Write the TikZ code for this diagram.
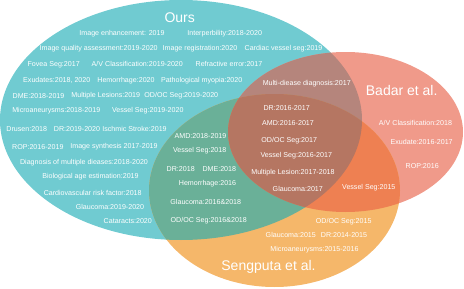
\documentclass[tikz,border=0pt]{standalone}
\usepackage{fontspec}
\setmainfont{Liberation Sans}
\usetikzlibrary{positioning}

\definecolor{oursfill}{HTML}{70CBD1}
\definecolor{badarfill}{HTML}{F09A8A}
\definecolor{sengfill}{HTML}{F5B76A}
\definecolor{obfill}{HTML}{B5857C}
\definecolor{osfill}{HTML}{6AB098}
\definecolor{bsfill}{HTML}{EE8052}
\definecolor{allfill}{HTML}{B57662}

% the three sets
\newcommand{\oursset}{(181,120) ellipse [x radius=181pt, y radius=120pt]}
\newcommand{\badarset}{(345.5,132) ellipse [x radius=117.5pt, y radius=80pt]}
\newcommand{\sengset}{(274.5,190.5) ellipse [x radius=125.5pt, y radius=96.5pt]}

\begin{document}
\begin{tikzpicture}[x=1pt, y=-1pt, every node/.style={inner sep=0pt, outer sep=0pt}]
    \tikzstyle{item} = [text=white, font=\fontsize{7.1}{8}\selectfont]
    \tikzstyle{title} = [text=white, font=\fontsize{14}{16}\selectfont]
    \useasboundingbox (0,0) rectangle (464,289);

    \fill[oursfill] \oursset;
    \fill[badarfill] \badarset;
    \fill[sengfill] \sengset;
    \begin{scope}
        \clip \oursset;
        \fill[obfill] \badarset;
        \fill[osfill] \sengset;
    \end{scope}
    \begin{scope}
        \clip \badarset;
        \fill[bsfill] \sengset;
    \end{scope}
    \begin{scope}
        \clip \oursset;
        \clip \badarset;
        \fill[allfill] \sengset;
    \end{scope}

    % Ours only
    \node[title] (ours) at (179.7,17.3) {Ours};
    \node[item] (o-enh) at (122,33.3) {Image enhancement: 2019};
    \node[item] (o-int) at (224.7,33.3) {Interperbility:2018-2020};
    \node[item] (o-iqa) at (98.7,48.3) {Image quality assessment:2019-2020};
    \node[item] (o-reg) at (200,48.3) {Image registration:2020};
    \node[item] (o-card) at (283.5,48.3) {Cardiac vessel seg:2019};
    \node[item] (o-fov) at (53.7,64.3) {Fovea Seg:2017};
    \node[item] (o-av) at (137.3,64.3) {A/V Classification:2019-2020};
    \node[item] (o-ref) at (229,64.3) {Refractive error:2017};
    \node[item] (o-exu) at (56.8,80.3) {Exudates:2018, 2020};
    \node[item] (o-hem) at (126,80.3) {Hemorrhage:2020};
    \node[item] (o-myo) at (201.7,80.3) {Pathological myopia:2020};
    \node[item] (o-dme) at (38.5,96) {DME:2018-2019};
    \node[item] (o-les) at (105.8,96) {Multiple Lesions:2019};
    \node[item] (o-odoc) at (181.3,96) {OD/OC Seg:2019-2020};
    \node[item] (o-ma) at (56.3,110.3) {Microaneurysms:2018-2019};
    \node[item] (o-ves) at (147.8,110.3) {Vessel Seg:2019-2020};
    \node[item] (o-dru) at (26.8,128.7) {Drusen:2018};
    \node[item] (o-dr) at (77,128.7) {DR:2019-2020};
    \node[item] (o-str) at (134.5,128.7) {Ischmic Stroke:2019};
    \node[item] (o-rop) at (37.8,146.7) {ROP:2016-2019};
    \node[item] (o-syn) at (114,146.7) {Image synthesis 2017-2019};
    \node[item] (o-diag) at (84,162.3) {Diagnosis of multiple dieases:2018-2020};
    \node[item] (o-age) at (90.5,177) {Biological age estimation:2019};
    \node[item] (o-cvd) at (92.7,192.7) {Cardiovascular risk factor:2018};
    \node[item] (o-gla) at (110,207.3) {Glaucoma:2019-2020};
    \node[item] (o-cat) at (127.8,220.7) {Cataracts:2020};

    % Ours and Badar
    \node[item] (ob-diag) at (306.8,84) {Multi-diease diagnosis:2017};

    % Badar only
    \node[title] (badar) at (401.7,90.7) {Badar et al.};
    \node[item] (b-av) at (415.5,122.7) {A/V Classification:2018};
    \node[item] (b-exu) at (421.7,142.3) {Exudate:2016-2017};
    \node[item] (b-rop) at (422.2,166.3) {ROP:2016};

    % all three
    \node[item] (a-dr) at (286.7,108.3) {DR:2016-2017};
    \node[item] (a-amd) at (288,123) {AMD:2016-2017};
    \node[item] (a-odoc) at (289.2,140.7) {OD/OC Seg:2017};
    \node[item] (a-ves) at (296.3,155.7) {Vessel Seg:2016-2017};
    \node[item] (a-les) at (293,172.7) {Multiple Lesion:2017-2018};
    \node[item] (a-gla) at (297.8,189) {Glaucoma:2017};

    % Ours and Sengputa
    \node[item] (os-amd) at (200.5,136) {AMD:2018-2019};
    \node[item] (os-ves) at (199.7,151) {Vessel Seg:2018};
    \node[item] (os-dr) at (180.7,169) {DR:2018};
    \node[item] (os-dme) at (219.3,169) {DME:2018};
    \node[item] (os-hem) at (207.5,183.3) {Hemorrhage:2016};
    \node[item] (os-gla) at (205.8,201.7) {Glaucoma:2016\&2018};
    \node[item] (os-odoc) at (208.8,220.3) {OD/OC Seg:2016\&2018};

    % Badar and Sengputa
    \node[item] (bs-ves) at (368.8,187.7) {Vessel Seg:2015};

    % Sengputa only
    \node[item] (s-odoc) at (343.7,221.3) {OD/OC Seg:2015};
    \node[item] (s-gla) at (290.8,234.7) {Glaucoma:2015};
    \node[item] (s-dr) at (344,234.7) {DR:2014-2015};
    \node[item] (s-ma) at (314.5,249.3) {Microaneurysms:2015-2016};
    \node[title] (seng) at (268.5,266.7) {Sengputa et al.};
\end{tikzpicture}
\end{document}
